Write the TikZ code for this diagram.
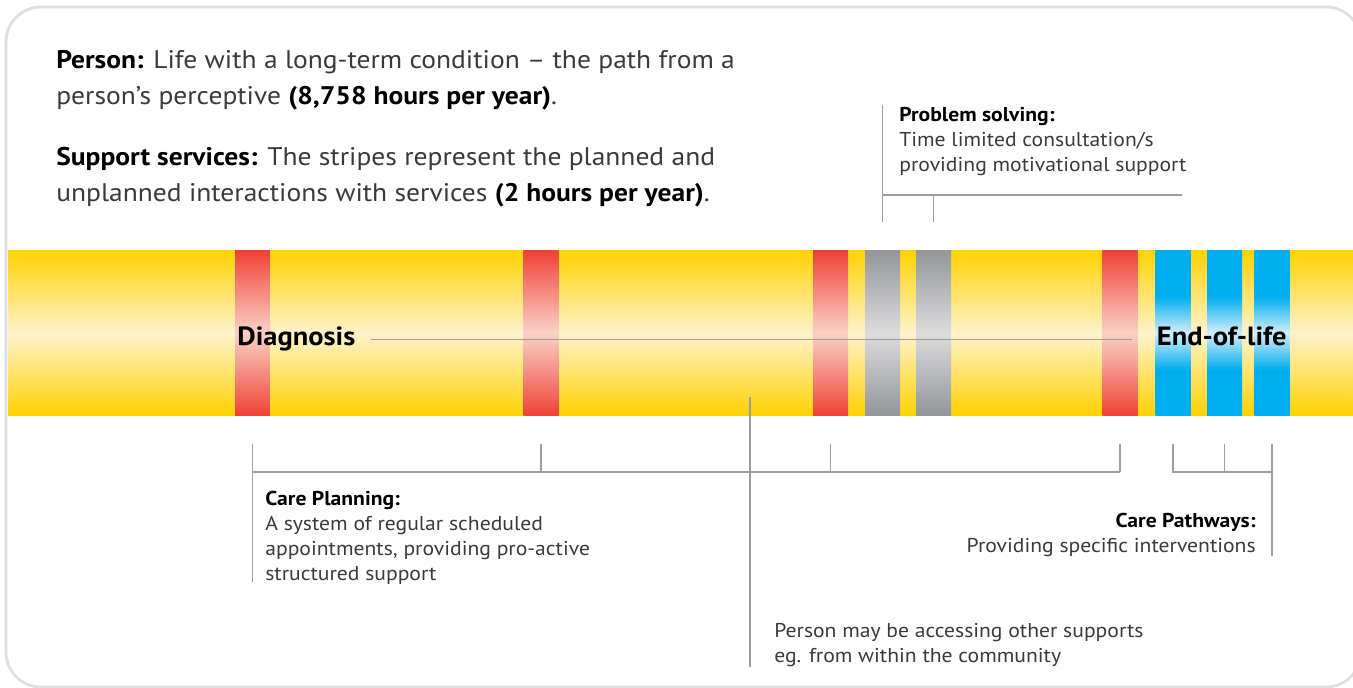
\documentclass[tikz,border=0pt]{standalone}
\usepackage{fontspec}
\setmainfont{PT Sans}[FakeStretch=1.08]
\usetikzlibrary{calc}

\definecolor{lifegold}{HTML}{FFD200}
\definecolor{lifecream}{HTML}{FFF2CC}
\definecolor{visitred}{HTML}{EF4136}
\definecolor{visitpink}{HTML}{FAD2C6}
\definecolor{psgrey}{HTML}{939598}
\definecolor{pslight}{HTML}{DCDCDD}
\definecolor{cpblue}{HTML}{00AEEF}
\definecolor{cplight}{HTML}{D2EEFA}
\definecolor{leadgrey}{HTML}{9D9D9D}
\definecolor{framegrey}{HTML}{DEDEDE}
\definecolor{bodytext}{HTML}{3A3A3C}

% vertical fades: dark at both edges, light along the middle
\pgfdeclareverticalshading{lifebar}{100bp}{color(0bp)=(lifegold); color(25bp)=(lifegold); color(50bp)=(lifecream); color(75bp)=(lifegold); color(100bp)=(lifegold)}
\pgfdeclareverticalshading{visitbar}{100bp}{color(0bp)=(visitred); color(25bp)=(visitred); color(50bp)=(visitpink); color(75bp)=(visitred); color(100bp)=(visitred)}
\pgfdeclareverticalshading{solvebar}{100bp}{color(0bp)=(psgrey); color(25bp)=(psgrey); color(50bp)=(pslight); color(75bp)=(psgrey); color(100bp)=(psgrey)}
\pgfdeclareverticalshading{pathbar}{100bp}{color(0bp)=(cpblue); color(39bp)=(cpblue); color(50bp)=(cplight); color(61bp)=(cpblue); color(100bp)=(cpblue)}

\begin{document}
\begin{tikzpicture}[x=0.02cm, y=-0.02cm,
  leader/.style={draw=leadgrey, line width=0.85pt},
  stripe/.style={minimum width=0.7cm, minimum height=3.32cm, inner sep=0pt, outer sep=0pt},
  lead/.style={font=\fontsize{14.5}{20.5}\selectfont, text=bodytext, align=left, anchor=base west, inner sep=0pt},
  note/.style={font=\fontsize{11.4}{14.4}\selectfont, text=bodytext, align=left, anchor=base west, inner sep=0pt},
  stage/.style={font=\fontsize{15}{18}\selectfont\bfseries, text=black, inner sep=0pt}]
\useasboundingbox (0,0) rectangle (1353,688);
\clip (0,0) rectangle (1353,688);
\draw[framegrey, line width=1.6pt, rounded corners=0.7cm] (6,7) rectangle (1361,687);

% heading text (nodes sit on the baseline of their last line)
\node[lead] (person) at (56,105) {\textbf{\color{black}Person:} Life with a long-term condition -- the path from a\\person's perceptive \textbf{\color{black}(8,758 hours per year)}.};
\node[lead] (support) at (56,202) {\textbf{\color{black}Support services:} The stripes represent the planned and\\unplanned interactions with services \textbf{\color{black}(2 hours per year)}.};

% the year as one long bar, stripes for each contact
\node[stripe, minimum width=26.9cm, shading=lifebar] (life) at (680.5,333) {};
\foreach \name/\x/\kind in {r1/252.5/visitbar, r2/541/visitbar, r3/830.5/visitbar, r4/1120/visitbar,
                            g1/882.5/solvebar, g2/933.5/solvebar,
                            b1/1173/pathbar, b2/1224.5/pathbar, b3/1272/pathbar}
  { \node[stripe, shading=\kind] (\name) at (\x,333) {}; }

% start and end of the path
\node[stage, anchor=base west] (diag) at (237,346) {Diagnosis};
\node[stage, anchor=base east] (eol) at (1287,346) {End-of-life};
\draw[leader] ([xshift=0.3cm]diag.east) -- ([xshift=-0.5cm]diag.east -| eol.west);

% problem solving bracket above the grey stripes
\coordinate (solvetop) at (0,105);
\coordinate (solverow) at (0,195);
\coordinate (solvefoot) at (0,222);
\coordinate (solveend) at (1182,195);
\draw[leader] (g1 |- solvetop) -- (g1 |- solvefoot);
\draw[leader] (g1 |- solverow) -- (solveend);
\draw[leader] (g2 |- solverow) -- (g2 |- solvefoot);
\node[note] (solve) at (899,172) {\textbf{\color{black}Problem solving:}\\Time limited consultation/s\\providing motivational support};

% brackets below the bar
\coordinate (ticktop) at (0,444);
\coordinate (tickrow) at (0,472);
\coordinate (planend) at (0,582);
\coordinate (pathend) at (0,556);
\draw[leader] (r1 |- ticktop) -- (r1 |- planend);
\draw[leader] (r1 |- tickrow) -- (r4 |- tickrow);
\foreach \s in {r2,r3,r4} { \draw[leader] (\s |- ticktop) -- (\s |- tickrow); }
\draw[leader] (b1 |- ticktop) -- (b1 |- tickrow) -- (b3 |- tickrow);
\draw[leader] (b2 |- ticktop) -- (b2 |- tickrow);
\draw[leader] (b3 |- ticktop) -- (b3 |- pathend);
\node[note] (planning) at (265,581) {\textbf{\color{black}Care Planning:}\\A system of regular scheduled\\appointments, providing pro-active\\structured support};
\node[note, align=right, anchor=base east] (pathways) at (1256,553) {\textbf{\color{black}Care Pathways:}\\Providing specific interventions};

% other supports, dropped from inside the bar
\coordinate (lifepoint) at (750,397);
\coordinate (othersend) at (750,667);
\draw[leader] (lifepoint) -- (othersend);
\node[note] (others) at (774,663) {Person may be accessing other supports\\eg. from within the community};
\end{tikzpicture}
\end{document}
